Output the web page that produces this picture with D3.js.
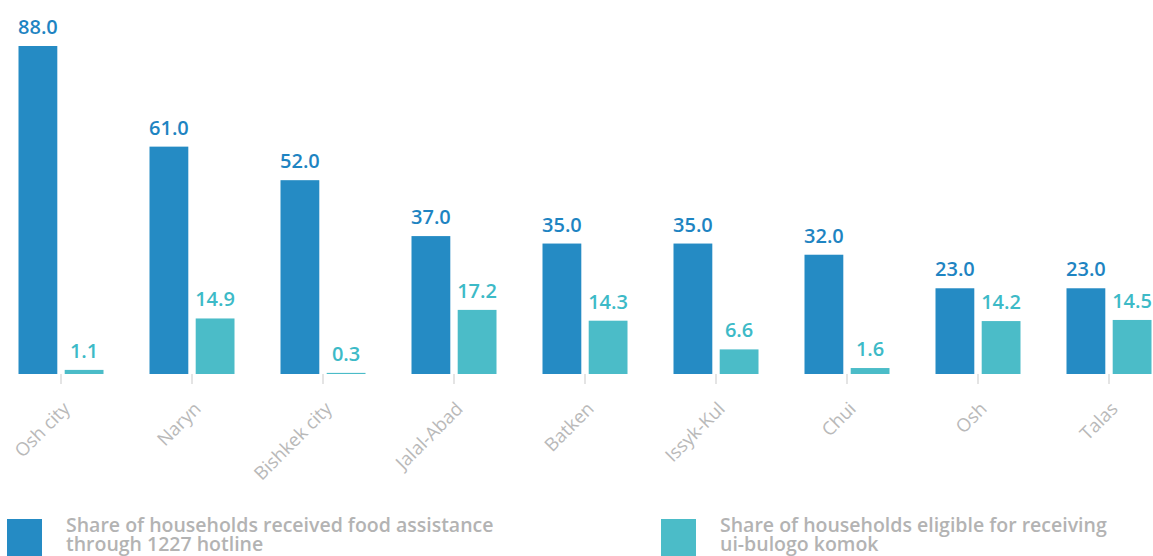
<!DOCTYPE html>
<html><head><meta charset="utf-8">
<script src="https://cdn.jsdelivr.net/npm/d3@7"></script>
<style>
body{margin:0;background:#fff;}
svg{display:block;font-family:"Open Sans",sans-serif;}
</style></head>
<body><svg id="c" width="1153" height="556"></svg>
<script>
const categories = ["Osh city","Naryn","Bishkek city","Jalal-Abad","Batken","Issyk-Kul","Chui","Osh","Talas"];
const foodAssistance = [88.0,61.0,52.0,37.0,35.0,35.0,32.0,23.0,23.0];
const eligible = [1.1,14.9,0.3,17.2,14.3,6.6,1.6,14.2,14.5];
const seriesNames = ["Share of households received food assistance\nthrough 1227 hotline","Share of households eligible for receiving\nui-bulogo komok"];
const seriesKeys = ["food","eligible"];
const colors = ["#258bc4","#4bbcc8"];
const labelColors = ["#1e84c2","#3dbac7"];

const svg = d3.select("#c");
const x = d3.scaleBand().domain(categories).range([-4.5,1174.5]).padding(0);
const xs = d3.scaleBand().domain(seriesKeys).range([-42.5,42.5]).paddingInner(0.16);
const y = d3.scaleLinear().domain([0,88]).range([374,46]);

const data = categories.map((c,i)=>({cat:c, values:[{k:"food",v:foodAssistance[i]},{k:"eligible",v:eligible[i]}]}));

const g = svg.append("g");
const grp = g.selectAll("g.cat").data(data).join("g")
  .attr("transform",d=>`translate(${x(d.cat)+x.bandwidth()/2},0)`);
grp.selectAll("rect").data(d=>d.values).join("rect")
  .attr("x",d=>xs(d.k)).attr("width",xs.bandwidth())
  .attr("y",d=>y(d.v)).attr("height",d=>y(0)-y(d.v))
  .attr("fill",(d,i)=>colors[i]);
grp.selectAll("text").data(d=>d.values).join("text")
  .attr("x",d=>xs(d.k)+xs.bandwidth()/2).attr("y",d=>y(d.v)-12)
  .attr("text-anchor","middle").attr("font-size",20).attr("font-weight",600)
  .attr("fill",(d,i)=>labelColors[i]).text(d=>d.v.toFixed(1));

const axis = d3.axisBottom(x).tickSize(10).tickPadding(4);
const ax = svg.append("g").attr("transform","translate(0,374)").call(axis);
ax.select(".domain").remove();
ax.selectAll(".tick line").attr("stroke","#e4e4e4").attr("stroke-width",2);
ax.selectAll(".tick text").attr("fill","#b9b9b9").attr("font-size",18.5)
  .attr("font-family","'Open Sans',sans-serif")
  .attr("text-anchor","end").attr("dy",0)
  .attr("transform","translate(10,36) rotate(-45)").attr("x",0).attr("y",0);

const leg = svg.append("g");
const lx = [7,661];
seriesNames.forEach((n,i)=>{
  leg.append("rect").attr("x",lx[i]).attr("y",519).attr("width",35).attr("height",40).attr("fill",colors[i]);
  const t = leg.append("text").attr("x",lx[i]+59).attr("y",532).attr("font-size",19.5).attr("font-weight",600).attr("fill","#b3b3b3");
  n.split("\n").forEach((line,j)=>t.append("tspan").attr("x",lx[i]+59).attr("dy",j?19:0).text(line));
});
</script></body></html>
